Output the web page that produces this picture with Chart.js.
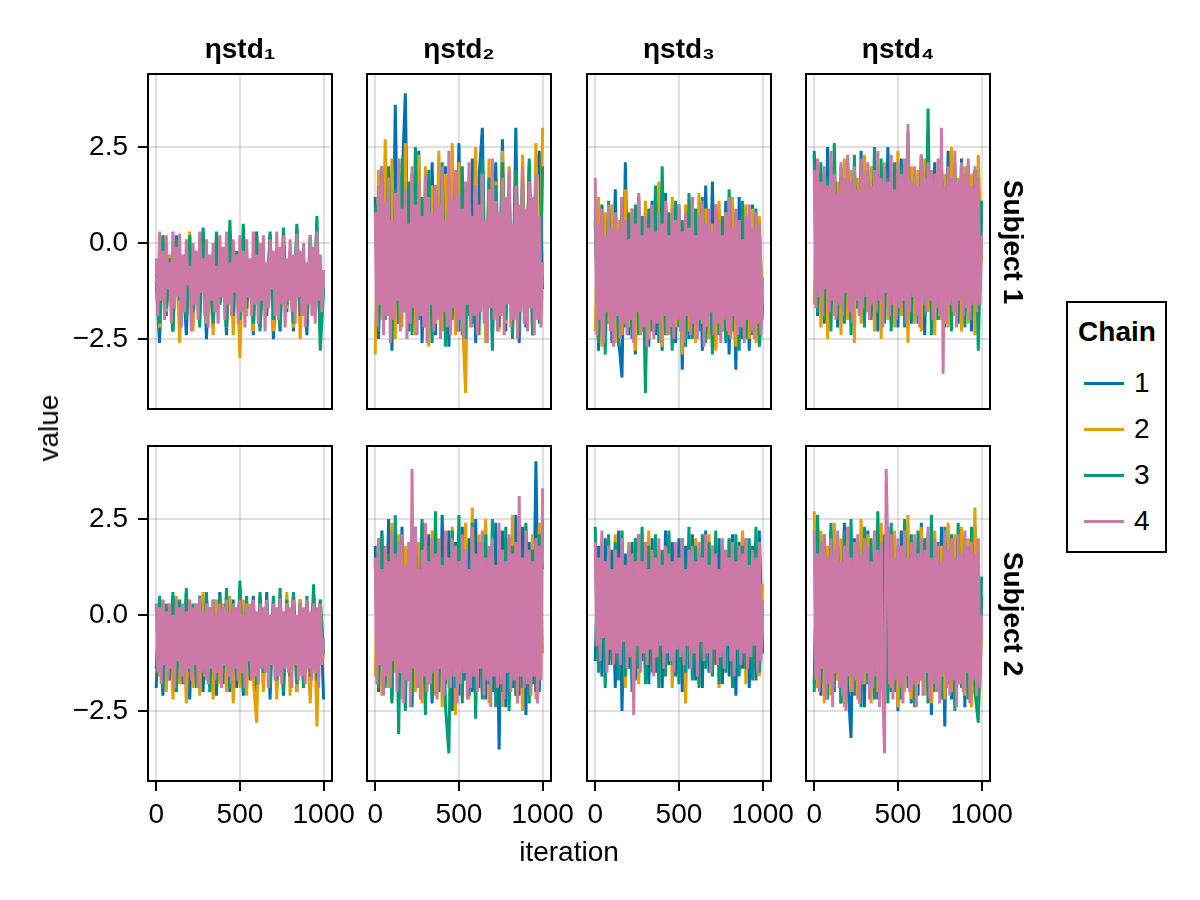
<!DOCTYPE html>
<html lang="en">
<head>
<meta charset="UTF-8">
<title>Chain traces</title>
<script src="https://cdn.jsdelivr.net/npm/chart.js"></script>
<style>
    body { margin: 0; background: #fff; color: #000; font-family: 'Liberation Sans', Arial, sans-serif; }
    #figure { position: relative; width: 1200px; height: 900px; overflow: hidden; }
    #figure canvas { position: absolute; }
    .txt { position: absolute; transform: translate(-50%, -50%); line-height: 1; white-space: nowrap; font-size: 28px; }
    .bold { font-weight: bold; }
    .left { transform: translate(0, -50%); }
    .rot-cw { transform: translate(-50%, -50%) rotate(90deg); }
    .rot-ccw { transform: translate(-50%, -50%) rotate(-90deg); }
    #legend { position: absolute; left: 1066px; top: 301px; width: 97px; height: 248px; border: 2px solid #000; }
    .swatch { position: absolute; width: 40px; height: 3px; }
</style>
</head>
<body>
<div id="figure"></div>
<script>
// iteration axis: chains 1-3 are sampled every 20 iterations, chain 4 (drawn on top) every 10
const iterations = [0,20,40,60,80,100,120,140,160,180,
    200,220,240,260,280,300,320,340,360,380,
    400,420,440,460,480,500,520,540,560,580,
    600,620,640,660,680,700,720,740,760,780,
    800,820,840,860,880,900,920,940,960,980,
    1000];
const iterationsFine = [0,10,20,30,40,50,60,70,80,90,
    100,110,120,130,140,150,160,170,180,190,
    200,210,220,230,240,250,260,270,280,290,
    300,310,320,330,340,350,360,370,380,390,
    400,410,420,430,440,450,460,470,480,490,
    500,510,520,530,540,550,560,570,580,590,
    600,610,620,630,640,650,660,670,680,690,
    700,710,720,730,740,750,760,770,780,790,
    800,810,820,830,840,850,860,870,880,890,
    900,910,920,930,940,950,960,970,980,990,
    1000];

const xTickValues = [0, 500, 1000];
const yTickValues = [-2.5, 0, 2.5];
const chainLabels = ['1', '2', '3', '4'];
const chainColors = ['#0072B2', '#E69F00', '#009E73', '#CC79A7'];
const paramTitles = ['ηstd₁', 'ηstd₂', 'ηstd₃', 'ηstd₄'];
const subjectLabels = ['Subject 1', 'Subject 2'];

// Subject 1
const s1_eta1_c1 = [-1.0,-2.6,0.1,-1.9,-0.5,-2.3,0.2,-1.6,-0.8,-2.4,
    0.0,-2.0,-0.3,-1.8,0.3,-2.5,-0.6,-2.2,-0.1,-1.5,
    -0.9,-2.4,0.2,-1.9,-0.4,-2.3,0.1,-1.7,-0.7,-2.4,
    0.3,-2.2,-0.5,-1.9,0.2,-2.5,-0.8,-2.3,0.0,-1.8,
    -0.3,-2.3,0.4,-2.0,-0.6,-2.4,0.1,-1.7,-0.2,-2.3,
    -1.0];
const s1_eta1_c2 = [-0.6,-2.2,0.2,-1.8,-0.3,-2.0,0.0,-2.6,-0.4,-1.9,
    0.3,-2.3,-0.2,-1.7,0.1,-2.1,-0.5,-2.4,0.2,-1.6,
    -0.7,-2.2,0.0,-2.4,-0.3,-3.0,0.1,-1.9,-0.6,-2.3,
    0.2,-2.0,-0.4,-1.8,0.1,-2.3,-0.5,-2.1,0.0,-1.7,
    -0.4,-2.2,0.2,-2.5,-0.3,-2.0,0.1,-1.8,-0.5,-2.1,
    -0.9];
const s1_eta1_c3 = [-0.8,-2.1,0.2,-1.7,-0.4,-2.3,0.1,-1.5,-0.6,-2.0,
    0.2,-1.8,-0.3,-2.2,0.4,-1.9,-0.5,-2.1,0.3,-1.6,
    -0.8,-2.2,0.6,-1.9,-0.2,-2.0,0.5,-1.7,-0.5,-2.1,
    0.2,-2.3,-0.4,-1.8,0.3,-2.0,-0.6,-2.2,0.4,-1.6,
    -0.2,-2.1,0.5,-1.9,-0.4,-2.0,0.2,-1.7,0.7,-2.8,
    -1.2];
const s1_eta1_c4 = [-0.4,-1.9,0.3,-1.5,-0.2,-2.0,0.2,-1.2,-0.5,-2.1,
    0.3,-1.7,-0.1,-1.4,0.25,-2.2,-0.3,-1.8,0.1,-1.1,
    -0.6,-2.3,0.0,-1.6,-0.2,-2.0,0.3,-1.3,-0.4,-1.9,
    0.1,-2.2,-0.3,-1.5,0.0,-1.8,-0.6,-2.1,0.2,-1.4,
    -0.1,-2.0,0.3,-1.6,-0.5,-1.9,0.1,-1.3,-0.3,-2.1,
    0.2,-1.8,-0.2,-2.2,0.1,-1.4,-0.4,-1.9,0.3,-1.6,
    -0.3,-2.1,0.0,-1.5,0.2,-2.3,-0.5,-1.7,0.1,-1.2,
    -0.2,-1.9,0.3,-2.0,-0.1,-1.6,0.2,-2.2,-0.4,-1.5,
    0.1,-1.8,-0.3,-2.1,0.25,-1.4,-0.2,-1.9,0.0,-2.2,
    -0.5,-1.6,0.2,-1.9,-0.1,-2.1,0.3,-1.5,-0.3,-1.8,
    -0.7];

const s1_eta2_c1 = [1.2,-2.5,2.0,-1.9,1.0,-2.8,3.6,-2.1,1.5,3.9,
    -2.3,1.8,-2.0,2.4,-2.6,1.3,-1.8,2.1,-2.4,1.6,
    -2.2,2.0,-2.7,1.1,-2.0,2.6,-2.4,1.4,-1.9,2.2,
    -2.6,1.7,3.0,-2.1,1.2,-2.5,2.1,-1.8,2.7,-2.3,
    1.5,-2.0,3.0,-2.6,1.8,-2.2,2.0,-2.4,1.6,2.4,
    -1.2];
const s1_eta2_c2 = [-2.9,1.9,-2.0,2.7,-1.8,2.2,-2.5,1.7,-2.2,2.6,
    -2.0,1.6,-2.4,2.3,-1.9,2.0,-2.7,1.5,-2.1,2.4,
    -2.3,1.8,-2.0,2.6,-2.4,2.1,-1.9,-3.9,1.7,-2.2,
    2.5,-2.0,1.9,-2.6,2.2,-1.8,1.6,-2.3,2.4,-2.1,
    2.0,-2.5,1.8,-2.2,2.3,-1.9,2.1,-2.4,2.6,-1.8,
    3.0];
const s1_eta2_c3 = [1.0,-2.3,1.8,-2.0,2.0,-2.5,1.4,-2.1,2.2,-1.8,
    1.6,-2.4,2.5,-2.0,1.2,-2.2,1.9,-2.6,1.5,-1.9,
    2.1,-2.7,1.3,-2.0,1.8,-2.3,2.0,-2.5,1.6,-2.1,
    1.4,-2.4,2.2,-1.9,1.7,-2.8,1.5,-2.2,2.1,-2.0,
    1.3,-2.5,1.9,-2.3,1.6,-2.0,2.2,-2.4,1.4,-2.1,
    2.0];
const s1_eta2_c4 = [0.8,-2.2,1.5,-1.6,2.0,-2.4,1.1,-1.9,1.7,-2.6,
    0.6,-2.0,1.3,-1.5,2.2,-2.3,0.9,-1.8,1.4,-2.5,
    0.5,-2.1,2.0,-1.7,1.0,-2.4,1.6,-1.9,0.7,-2.2,
    1.8,-2.6,1.2,-1.6,0.8,-2.3,1.5,-2.0,1.0,-2.5,
    2.0,-1.8,0.6,-2.2,2.4,-2.4,1.1,-1.7,1.9,-2.3,
    1.3,-2.0,0.9,-2.5,1.6,-1.6,2.1,-2.2,0.7,-1.9,
    1.5,-2.4,1.0,-1.8,1.8,-2.1,0.6,-2.6,1.4,-1.7,
    2.2,-2.0,1.1,-2.3,0.8,-1.9,1.7,-2.4,1.2,-1.6,
    1.9,-2.2,0.5,-2.0,1.5,-2.5,1.0,-1.8,2.0,-2.1,
    0.9,-2.3,1.6,-1.7,1.2,-2.4,1.8,-2.0,0.7,-2.2,
    -0.5];

const s1_eta3_c1 = [0.6,-2.8,1.0,-2.2,0.8,-2.6,1.4,-2.5,-3.5,2.1,
    -2.4,0.7,-2.9,1.2,-2.3,0.9,-2.7,1.1,-2.4,0.5,
    -2.8,1.3,-2.2,0.8,-2.6,1.0,-3.3,0.6,-2.5,1.2,
    -2.3,0.9,-2.8,1.5,-2.4,1.6,-2.7,0.7,-2.3,1.1,
    -2.9,0.8,-3.3,1.2,-2.5,0.6,-2.8,1.0,-2.4,0.4,
    -1.8];
const s1_eta3_c2 = [-2.3,1.2,-2.7,0.8,-2.1,1.0,-2.6,0.6,-2.4,1.4,
    -2.2,0.9,-2.8,0.7,-2.3,1.1,-2.5,0.5,-2.0,1.6,
    -2.7,0.8,-2.4,1.2,-2.2,0.6,-2.9,1.0,-2.3,0.7,
    -2.6,1.3,-2.1,0.9,-2.5,0.5,-2.8,1.1,-2.3,0.8,
    -2.4,1.2,-2.7,0.6,-2.2,1.0,-2.5,0.9,-2.6,0.7,
    -2.0];
const s1_eta3_c3 = [0.9,-2.6,0.4,-2.9,1.1,-2.3,0.6,-2.7,1.2,-2.2,
    0.8,-2.5,1.0,-2.4,0.7,-3.9,0.9,-2.3,1.5,-2.6,
    2.0,-2.4,0.8,-2.8,1.1,-2.2,0.6,-2.7,1.3,-2.5,
    0.9,-2.3,1.2,-2.6,0.5,-2.9,1.0,-2.4,0.7,-2.6,
    1.4,-2.3,0.8,-2.8,1.1,-2.5,0.6,-2.4,0.9,-2.7,
    -1.6];
const s1_eta3_c4 = [1.7,-2.4,0.5,-2.0,0.9,-2.6,0.2,-1.8,1.0,-2.3,
    0.4,-2.7,0.8,-1.9,0.3,-2.5,1.2,-2.1,0.6,-2.4,
    0.1,-2.0,0.9,-2.6,0.5,-1.8,1.3,-2.4,0.2,-2.2,
    0.7,-2.7,0.4,-2.0,1.0,-2.5,0.3,-2.1,0.8,-2.6,
    0.5,-1.9,1.1,-2.4,0.2,-2.2,0.9,-2.5,0.6,-2.0,
    1.0,-2.3,0.3,-2.6,0.8,-1.9,0.4,-2.4,1.2,-2.1,
    0.2,-2.5,0.7,-2.0,1.1,-2.7,0.5,-2.2,0.9,-1.8,
    0.3,-2.4,1.0,-2.1,0.6,-2.6,0.2,-2.0,0.8,-2.3,
    1.2,-2.5,0.4,-1.9,0.9,-2.4,0.6,-2.2,0.1,-2.6,
    0.7,-2.0,1.0,-2.3,0.4,-2.5,0.8,-2.1,0.5,-2.4,
    -0.9];

const s1_eta4_c1 = [2.3,-1.9,1.8,-2.1,2.5,-1.6,2.0,-2.2,1.7,-1.8,
    2.2,-2.0,1.9,-1.7,2.4,-2.1,1.6,-1.9,2.1,-2.3,
    1.8,-1.6,2.5,-2.0,1.7,-2.2,2.2,-1.8,2.0,-2.1,
    1.6,-1.9,2.3,-2.4,1.9,-1.7,2.1,-2.0,1.8,-2.2,
    2.4,-1.9,1.7,-2.1,2.2,-1.8,2.0,-2.3,1.9,-1.7,
    0.8];
const s1_eta4_c2 = [-1.6,2.0,-2.2,1.8,-2.5,2.1,-1.9,1.6,-2.4,2.2,
    -2.0,1.9,-2.6,1.7,-2.1,2.3,-1.8,2.0,-2.3,1.6,
    -2.5,2.1,-2.0,1.8,-2.2,2.4,-1.9,1.7,-2.6,2.0,
    -2.1,1.9,-2.3,2.2,-1.8,1.6,-2.4,2.1,-2.0,1.8,
    -2.2,2.5,-1.9,1.7,-2.3,2.0,-2.1,1.8,-2.4,2.3,
    -0.5];
const s1_eta4_c3 = [2.4,-1.8,2.1,-2.0,1.7,-2.3,2.6,-1.9,2.0,-2.1,
    1.8,-2.4,2.3,-1.7,2.0,-2.2,1.9,-2.0,2.5,-1.8,
    2.2,-2.1,1.7,-2.3,2.1,-1.9,2.0,-2.2,2.9,-2.0,
    1.8,-2.1,2.3,-1.9,3.5,-2.4,1.7,-2.0,2.2,-2.1,
    1.9,-2.3,2.1,-1.8,2.0,-2.2,2.0,-2.0,1.9,-2.8,
    1.1];
const s1_eta4_c4 = [1.9,-1.7,2.2,-1.4,1.6,-1.9,2.0,-1.2,1.5,-1.8,
    2.4,-1.5,1.8,-2.0,1.3,-1.6,2.1,-1.9,1.7,-1.3,
    2.3,-1.8,1.6,-2.1,2.0,-1.5,1.4,-1.9,2.2,-1.7,
    1.8,-1.4,2.1,-2.0,1.5,-1.6,1.9,-1.8,2.4,-1.5,
    1.7,-2.2,2.0,-1.3,1.6,-1.9,2.3,-1.6,1.4,-2.0,
    2.1,-1.7,1.8,-1.5,2.2,-2.1,3.1,-1.8,1.6,-1.4,
    2.0,-1.9,1.5,-2.2,2.3,-1.6,1.7,-1.8,2.1,-1.5,
    1.9,-2.0,1.8,-1.7,2.2,-1.9,3.0,-3.4,1.5,-2.1,
    2.0,-1.6,1.7,-1.8,2.4,-2.2,1.6,-1.5,2.1,-1.9,
    1.8,-1.7,2.2,-2.0,1.5,-1.6,2.0,-1.8,1.7,-1.6,
    0.2];

// Subject 2
const s2_eta1_c1 = [-1.9,0.4,-2.1,0.2,-1.7,0.5,-2.0,0.3,-1.8,0.6,
    -2.2,0.1,-1.9,0.4,-2.0,0.5,-1.6,0.2,-2.1,0.6,
    -1.8,0.3,-2.0,0.4,-1.9,0.7,-2.1,0.2,-1.7,0.5,
    -2.0,0.4,-1.8,0.6,-2.2,0.3,-1.9,0.5,-2.1,0.2,
    -1.7,0.6,-2.0,0.4,-1.8,0.3,-2.1,0.5,-1.9,0.2,
    -2.2];
const s2_eta1_c2 = [0.2,-1.6,0.4,-2.0,0.3,-2.2,0.5,-1.8,0.2,-2.3,
    0.4,-1.9,0.3,-2.1,0.6,-1.7,0.2,-2.2,0.4,-1.8,
    0.3,-2.0,0.5,-2.3,0.2,-1.9,0.4,-2.1,0.3,-1.7,
    -2.8,0.5,-2.0,0.2,-1.8,0.4,-2.2,0.3,-1.9,0.6,
    -2.1,0.2,-2.0,0.4,-1.8,0.3,-2.3,0.5,-2.9,0.4,
    -1.1];
const s2_eta1_c3 = [-1.4,0.5,-1.9,0.3,-1.6,0.6,-2.0,0.4,-1.7,0.7,
    -1.5,0.3,-1.9,0.5,-1.6,0.6,-2.0,0.4,-1.8,0.5,
    -1.5,0.7,-1.9,0.3,-1.7,0.9,-2.0,0.5,-1.6,0.4,
    -1.8,0.6,-1.5,0.3,-1.9,0.5,-1.7,0.7,-2.0,0.4,
    -1.6,0.6,-1.8,0.3,-1.9,0.5,-1.6,0.8,-1.7,0.4,
    -1.0];
const s2_eta1_c4 = [0.3,-1.5,0.2,-1.8,0.4,-1.3,0.1,-1.7,0.3,-1.4,
    0.0,-1.9,0.4,-1.2,0.2,-1.6,0.3,-1.8,0.1,-1.4,
    0.4,-1.7,0.2,-1.3,0.3,-1.9,0.45,-1.5,0.1,-1.6,
    0.3,-1.8,0.2,-1.4,0.4,-1.7,0.0,-1.5,0.3,-1.9,
    0.2,-1.3,0.4,-1.6,0.1,-1.8,0.3,-1.4,0.2,-1.7,
    0.4,-1.5,0.0,-1.9,0.3,-1.2,0.2,-1.7,0.4,-1.6,
    0.1,-1.8,0.3,-1.4,0.2,-1.5,0.4,-1.9,0.0,-1.3,
    0.3,-1.7,0.2,-1.6,0.45,-1.8,0.1,-1.4,0.3,-1.5,
    0.2,-1.9,0.4,-1.3,0.0,-1.7,0.3,-1.6,0.2,-1.8,
    0.4,-1.4,0.1,-1.7,0.3,-1.5,0.2,-1.9,0.3,-1.3,
    -0.6];

const s2_eta2_c1 = [1.8,-2.0,2.2,-1.7,2.5,-2.2,1.9,-1.8,2.3,-2.1,
    1.6,-2.4,2.0,-1.9,2.4,-1.6,2.1,-2.3,1.8,-2.0,
    2.6,-1.8,2.2,-2.5,1.9,-2.1,2.3,-1.7,2.0,-2.0,
    2.5,-1.9,2.1,-2.2,1.7,-2.0,2.4,-3.5,2.2,-2.4,
    2.0,-1.9,2.6,-2.1,2.3,-2.6,1.9,-1.8,4.0,-2.0,
    2.5];
const s2_eta2_c2 = [-1.6,2.0,-2.1,1.7,-1.9,2.4,-1.5,2.1,-2.2,1.8,
    -1.7,2.5,-2.0,1.9,-2.3,1.6,-1.8,2.2,-2.1,2.0,
    -2.4,1.7,-1.9,2.3,-2.6,2.0,-1.8,2.4,-2.2,2.8,
    -1.7,2.1,-2.0,2.5,-2.3,1.8,-1.9,2.2,-2.4,2.0,
    -1.6,2.6,-2.1,1.9,-2.5,2.3,-1.8,2.1,-2.2,2.4,
    -1.0];
const s2_eta2_c3 = [1.4,-1.9,2.1,-1.9,1.6,-2.3,2.6,-3.1,2.0,-2.5,
    1.7,-2.1,2.3,-1.9,2.5,-2.6,1.8,-2.2,2.7,-2.0,
    1.5,-2.4,-3.6,2.2,-1.9,2.6,-2.3,1.7,-2.1,2.4,
    -2.7,1.9,-2.2,2.1,-1.8,2.5,-2.4,1.6,-2.0,2.3,
    -2.5,1.8,-2.1,2.2,-1.9,2.4,-2.3,1.7,-2.0,2.1,
    1.2];
const s2_eta2_c4 = [1.5,-1.8,2.0,-1.3,1.2,-2.1,1.8,-1.6,1.4,-1.9,
    2.2,-1.2,1.6,-2.0,1.9,-1.5,2.1,-2.3,1.3,-1.7,
    1.9,-2.4,3.8,-1.4,2.3,-1.9,1.2,-2.2,1.7,-1.6,
    2.4,-2.0,1.4,-1.8,2.0,-1.5,1.6,-2.2,1.9,-1.4,
    1.3,-2.1,2.2,-1.7,1.5,-1.9,2.0,-1.6,1.8,-2.3,
    1.4,-1.8,2.1,-1.5,1.7,-2.2,1.2,-1.9,2.3,-1.6,
    1.6,-2.0,1.9,-1.4,2.2,-2.1,1.5,-1.7,1.8,-2.4,
    2.0,-1.6,1.3,-1.9,2.4,-1.8,1.7,-2.2,1.4,-1.5,
    2.1,-2.0,1.6,-1.7,1.9,-2.3,3.1,-1.6,1.5,-1.9,
    2.2,-1.8,1.7,-2.1,1.4,-1.6,2.0,-2.3,1.8,-1.7,
    3.3];

const s2_eta3_c1 = [-1.2,1.8,-1.6,2.0,-1.3,1.7,-1.9,2.2,-2.5,1.6,
    -1.4,1.9,-1.7,2.1,-1.2,1.8,-1.8,2.0,-1.5,1.7,
    -1.9,2.2,-1.3,1.9,-1.6,2.0,-2.0,1.8,-1.4,2.1,
    -1.7,1.6,-1.9,2.2,-1.5,1.8,-1.3,2.0,-1.8,1.7,
    -1.6,2.1,-2.1,1.9,-1.4,2.0,-1.9,1.8,-1.7,2.2,
    -1.0];
const s2_eta3_c2 = [1.6,-1.4,2.0,-1.7,1.8,-1.2,2.1,-1.6,1.5,-1.9,
    1.9,-1.3,2.0,-1.8,1.7,-1.5,2.2,-1.4,1.8,-1.7,
    1.6,-1.2,2.1,-1.9,1.7,-1.5,1.9,-2.3,1.6,-1.4,
    2.0,-1.8,1.8,-1.3,2.1,-1.6,1.7,-1.9,1.9,-1.5,
    2.0,-1.7,1.6,-1.4,2.2,-1.8,1.8,-1.3,1.9,-1.6,
    0.8];
const s2_eta3_c3 = [2.3,-1.5,1.8,-1.9,2.1,-1.3,1.9,-1.7,2.2,-1.6,
    1.7,-2.0,2.0,-1.4,2.3,-1.8,1.8,-1.5,2.1,-1.9,
    1.7,-1.6,2.2,-1.3,1.9,-1.8,2.0,-1.5,2.3,-1.7,
    1.8,-1.9,2.1,-1.4,1.9,-1.6,2.2,-1.8,1.7,-1.5,
    2.0,-1.9,2.1,-1.6,1.8,-1.4,2.0,-1.7,2.3,-1.5,
    0.2];
const s2_eta3_c4 = [1.9,-0.8,1.5,-1.2,2.2,-0.6,1.4,-1.5,1.8,-0.9,
    1.2,-1.3,1.7,-1.0,1.5,-1.3,2.0,-0.7,1.3,-1.4,
    1.8,-1.1,1.6,-2.6,1.4,-0.8,2.1,-1.5,1.4,-1.0,
    1.9,-1.3,1.2,-0.9,1.7,-1.6,1.5,-1.1,2.0,-0.8,
    1.3,-1.4,1.8,-1.0,1.6,-1.2,1.4,-1.5,1.9,-0.9,
    1.5,-1.1,2.0,-1.3,1.2,-0.8,1.7,-1.4,1.8,-1.0,
    1.4,-1.6,1.9,-0.7,1.5,-1.2,2.1,-1.0,1.3,-1.5,
    1.8,-0.9,1.6,-1.3,1.2,-1.1,2.0,-1.4,1.7,-0.8,
    1.5,-1.2,1.9,-1.6,1.4,-0.9,1.8,-1.3,1.6,-1.0,
    2.0,-1.4,1.3,-1.1,1.7,-0.8,1.5,-1.5,1.9,-1.2,
    0.4];

const s2_eta4_c1 = [-1.8,2.3,-2.1,1.9,-1.6,2.2,-2.0,1.8,-2.3,2.4,
    -1.7,-3.2,2.0,-2.1,1.8,-2.4,2.2,-1.9,1.6,-2.2,
    2.1,-1.8,2.3,-2.0,1.9,-2.5,2.2,-1.7,2.0,-2.3,
    1.8,-2.1,2.4,-1.9,2.1,-2.6,1.7,-2.0,2.3,-2.9,
    1.9,-2.2,2.0,-1.8,2.2,-2.4,1.8,-2.1,2.3,-2.0,
    0.5];
const s2_eta4_c2 = [2.7,-1.9,2.2,-2.3,1.8,-2.1,2.4,-1.7,2.0,-2.4,
    2.3,-2.0,1.9,-2.2,2.5,-1.8,2.1,-2.3,1.7,-2.0,
    2.4,-2.1,2.0,-1.9,2.2,-2.4,1.8,-2.0,2.6,-2.2,
    1.9,-1.8,2.3,-2.1,2.0,-2.3,2.2,-1.9,1.8,-2.2,
    2.4,-2.0,2.1,-1.8,2.3,-2.1,2.0,-2.4,2.8,-2.6,
    -0.4];
const s2_eta4_c3 = [-2.0,2.6,-1.8,2.1,-2.2,2.4,-1.9,2.0,-2.3,2.2,
    -1.7,2.5,-2.1,1.9,-2.4,2.3,-1.8,2.0,-2.2,2.7,
    -1.9,2.1,-2.3,2.4,-2.0,1.8,-2.2,2.5,-1.9,2.1,
    -2.4,2.2,-1.7,2.0,-2.3,2.6,-2.0,1.9,-2.2,2.3,
    -1.8,2.1,-2.5,2.4,-1.9,2.0,-2.2,2.3,-2.0,-2.8,
    1.0];
const s2_eta4_c4 = [2.2,-1.7,1.6,-2.0,1.9,-1.4,2.1,-2.2,1.5,-1.8,
    2.0,-2.4,1.7,-1.5,2.2,-1.9,1.4,-2.1,1.8,-2.5,
    2.3,-1.6,1.5,-2.0,1.9,-1.7,2.1,-2.3,1.6,-1.8,
    2.0,-1.5,1.8,-2.2,1.4,-1.9,2.2,-1.6,1.7,-2.4,
    1.9,-2.0,-3.6,3.8,1.6,-1.8,2.1,-2.2,1.5,-1.7,
    2.0,-1.9,1.8,-2.3,2.2,-1.6,1.5,-2.0,1.9,-1.8,
    2.1,-2.4,1.6,-1.7,2.0,-2.1,1.7,-1.5,2.3,-2.2,
    1.5,-1.8,2.0,-2.0,1.8,-2.3,1.4,-1.6,2.2,-1.9,
    1.7,-2.1,2.0,-1.7,1.5,-2.4,2.1,-1.8,1.6,-2.0,
    2.2,-1.5,1.8,-2.3,1.9,-1.7,1.6,-2.1,2.0,-1.9,
    0.0];

const panels = [
    { row: 0, col: 0, chains: [s1_eta1_c1, s1_eta1_c2, s1_eta1_c3, s1_eta1_c4] },
    { row: 0, col: 1, chains: [s1_eta2_c1, s1_eta2_c2, s1_eta2_c3, s1_eta2_c4] },
    { row: 0, col: 2, chains: [s1_eta3_c1, s1_eta3_c2, s1_eta3_c3, s1_eta3_c4] },
    { row: 0, col: 3, chains: [s1_eta4_c1, s1_eta4_c2, s1_eta4_c3, s1_eta4_c4] },
    { row: 1, col: 0, chains: [s2_eta1_c1, s2_eta1_c2, s2_eta1_c3, s2_eta1_c4] },
    { row: 1, col: 1, chains: [s2_eta2_c1, s2_eta2_c2, s2_eta2_c3, s2_eta2_c4] },
    { row: 1, col: 2, chains: [s2_eta3_c1, s2_eta3_c2, s2_eta3_c3, s2_eta3_c4] },
    { row: 1, col: 3, chains: [s2_eta4_c1, s2_eta4_c2, s2_eta4_c3, s2_eta4_c4] }
];

// layout (pixels)
const FRAME_X = [148, 367, 587, 806];
const FRAME_Y = [74, 446];
const FRAME_W = 184, FRAME_H = 335;
const PAD_L = 90, PAD_R = 40, PAD_T = 12, PAD_B = 60;
const GRID_COLOR = 'rgba(0,0,0,0.12)';

Chart.defaults.font.family = "'Liberation Sans', Arial, sans-serif";
Chart.defaults.color = '#000';

const figure = document.getElementById('figure');

// black box around each axis, drawn over the traces
const framePlugin = {
    id: 'frame',
    afterDraw(chart) {
        const { ctx, chartArea: a } = chart;
        ctx.save();
        ctx.strokeStyle = '#000';
        ctx.lineWidth = 2;
        ctx.strokeRect(a.left, a.top, a.right - a.left, a.bottom - a.top);
        ctx.restore();
    }
};

function fmtY(v) {
    return v < 0 ? '\u2212' + Math.abs(v).toFixed(1) : v.toFixed(1);
}

function xFor(vals) {
    return vals.length === iterationsFine.length ? iterationsFine : iterations;
}

function addText(text, x, y, cls) {
    const d = document.createElement('div');
    d.className = 'txt ' + (cls || '');
    d.textContent = text;
    d.style.left = x + 'px';
    d.style.top = y + 'px';
    figure.appendChild(d);
    return d;
}

panels.forEach(p => {
    const showX = p.row === 1;
    const showY = p.col === 0;
    const canvas = document.createElement('canvas');
    canvas.width = PAD_L + FRAME_W + PAD_R;
    canvas.height = PAD_T + FRAME_H + PAD_B;
    canvas.style.left = (FRAME_X[p.col] - PAD_L) + 'px';
    canvas.style.top = (FRAME_Y[p.row] - PAD_T) + 'px';
    figure.appendChild(canvas);

    new Chart(canvas, {
        type: 'line',
        data: {
            datasets: p.chains.map((vals, i) => {
                const xs = xFor(vals);
                return {
                    label: chainLabels[i],
                    data: vals.map((v, k) => ({ x: xs[k], y: v })),
                    borderColor: chainColors[i],
                    borderWidth: 3,
                    borderJoinStyle: 'bevel',
                    pointRadius: 0,
                    tension: 0,
                    fill: false,
                    order: 3 - i
                };
            })
        },
        options: {
            responsive: false,
            animation: false,
            events: [],
            layout: { padding: { top: PAD_T, right: PAD_R, left: 0, bottom: 0 } },
            plugins: { legend: { display: false }, tooltip: { enabled: false } },
            scales: {
                x: {
                    type: 'linear',
                    min: -49,
                    max: 1050,
                    afterBuildTicks: s => { s.ticks = xTickValues.map(v => ({ value: v })); },
                    afterFit: s => { s.height = PAD_B; s.paddingLeft = 0; s.paddingRight = 0; },
                    border: { display: false },
                    grid: { color: GRID_COLOR, lineWidth: 2, drawTicks: showX, tickLength: 10, tickWidth: 2, tickColor: '#000' },
                    ticks: { display: showX, padding: 7, maxRotation: 0, autoSkip: false, font: { size: 28 }, callback: v => String(v) }
                },
                y: {
                    type: 'linear',
                    min: -4.32,
                    max: 4.40,
                    afterBuildTicks: s => { s.ticks = yTickValues.map(v => ({ value: v })); },
                    afterFit: s => { s.width = PAD_L; s.paddingTop = 0; s.paddingBottom = 0; },
                    border: { display: false },
                    grid: { color: GRID_COLOR, lineWidth: 2, drawTicks: showY, tickLength: 10, tickWidth: 2, tickColor: '#000' },
                    ticks: { display: showY, padding: 10, font: { size: 28 }, callback: v => fmtY(v) }
                }
            }
        },
        plugins: [framePlugin]
    });
});

// column titles and row labels
paramTitles.forEach((t, c) => addText(t, FRAME_X[c] + FRAME_W / 2, 49, 'bold'));
subjectLabels.forEach((t, r) => addText(t, 1013, FRAME_Y[r] + FRAME_H / 2, 'bold rot-cw'));
addText('iteration', 569, 852);
addText('value', 49, 428, 'rot-ccw');

// legend
const legend = document.createElement('div');
legend.id = 'legend';
figure.appendChild(legend);
addText('Chain', 1117, 332, 'bold');
const legendY = [383, 429, 475, 521];
chainLabels.forEach((lab, i) => {
    const sw = document.createElement('div');
    sw.className = 'swatch';
    sw.style.left = '1084px';
    sw.style.top = (legendY[i] - 1.5) + 'px';
    sw.style.background = chainColors[i];
    figure.appendChild(sw);
    addText(lab, 1134, legendY[i], 'left');
});
</script>
</body>
</html>
